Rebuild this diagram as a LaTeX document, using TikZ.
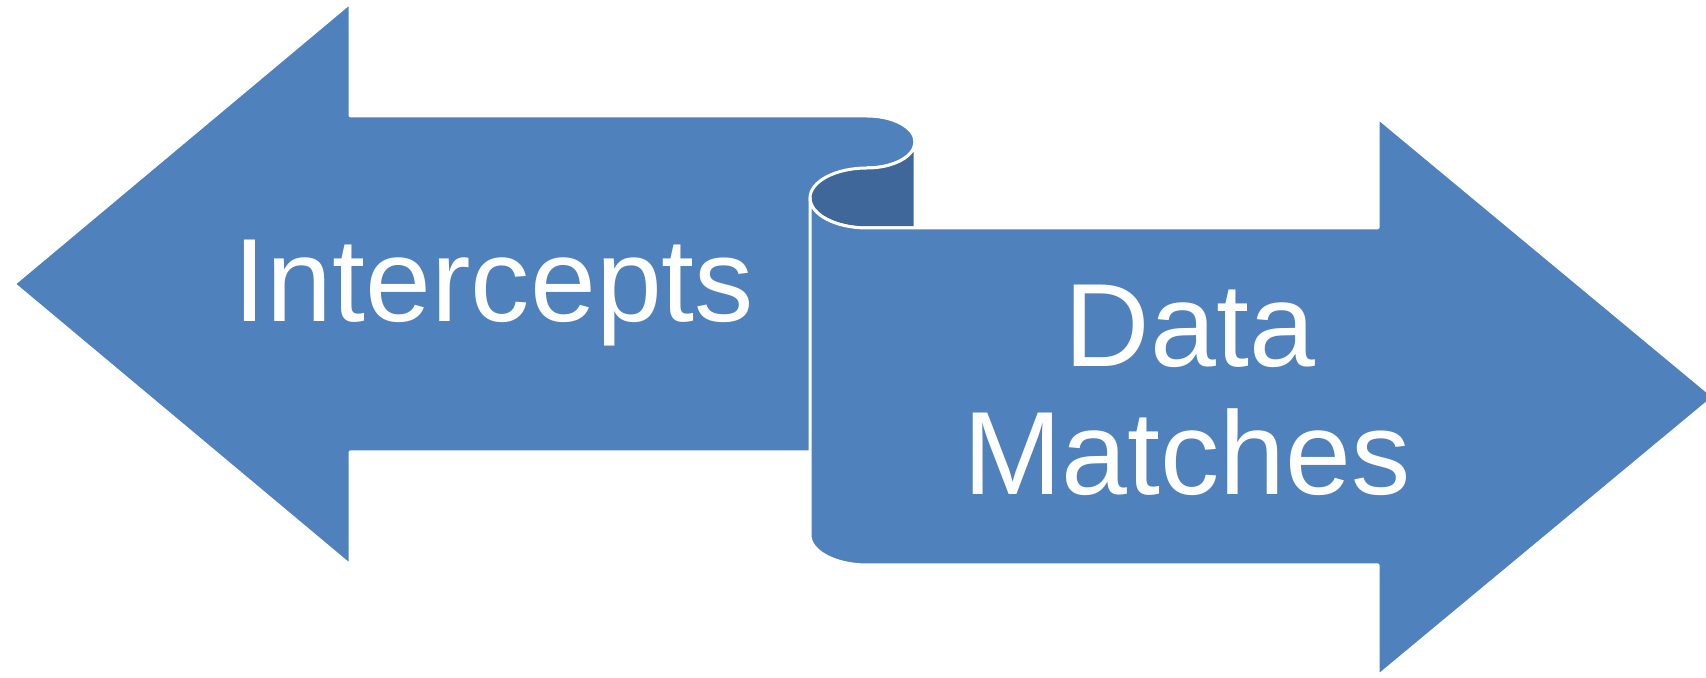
\documentclass[tikz,border=0pt]{standalone}
\usepackage{fontspec}
\setmainfont{Liberation Sans}
\usepackage{xcolor}
\usepackage{tikz}

\definecolor{ribbon}{RGB}{79,129,189}
\definecolor{ribbondark}{RGB}{64,103,153}

\begin{document}
\begin{tikzpicture}[x=0.1mm, y=0.1mm,
  band/.style={fill=ribbon, draw=white, line width=0.3mm, line join=round},
  lbl/.style={text=white, inner sep=0pt, font=\fontsize{33.7pt}{38pt}\selectfont}]
\useasboundingbox (0,0) rectangle (1706,678);
% left band, head pointing left
\path[band] (14,394) -- (350,675) -- (350,562) -- (867,562)
  arc[start angle=90, end angle=-90, x radius=48, y radius=26]
  -- (867,226) -- (350,226) -- (350,113) -- cycle;
% back side of the curl
\path[band, fill=ribbondark] (915,536)
  arc[start angle=0, end angle=-90, x radius=48, y radius=26]
  arc[start angle=90, end angle=270, x radius=57, y radius=30]
  -- (915,450) -- cycle;
% right band, head pointing right
\path[band] (867,450) arc[start angle=270, end angle=180, x radius=57, y radius=30]
  -- (810,143) arc[start angle=180, end angle=270, x radius=57, y radius=30]
  -- (1378,113) -- (1378,2) -- (1714,281) -- (1378,560) -- (1378,450) -- cycle;
\node[lbl, anchor=base] (intercepts) at (494,356) {Intercepts};
\node[lbl, anchor=base] (data) at (1190,311) {Data};
\node[lbl, anchor=base] (matches) at (1187,183) {Matches};
\end{tikzpicture}
\end{document}
